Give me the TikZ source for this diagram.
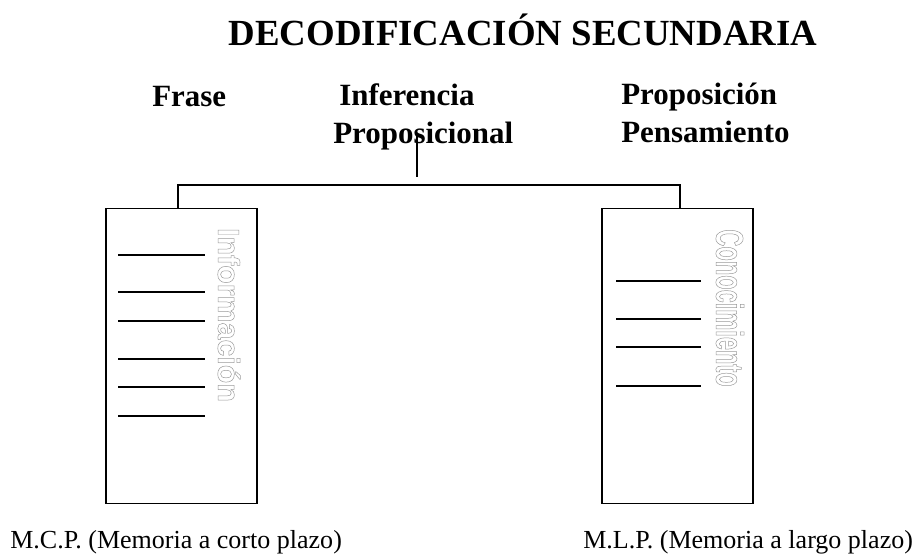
\documentclass[tikz,border=0pt]{standalone}
\usepackage{fontspec}
\setmainfont{Liberation Serif}[BoldFont={Liberation Serif Bold}]
\newfontfamily\infofont{Liberation Sans}
\newfontfamily\knowfont[FakeStretch=0.61]{Liberation Sans}
\usepackage{xcolor}
\usepackage{tikz}
\newcommand\hollow[1]{\special{pdf:literal direct 1 Tr 0.35 w}#1\special{pdf:literal direct 0 Tr 0.4 w}}

\begin{document}
\begin{tikzpicture}[x=0.025cm,y=-0.025cm,
  head/.style={font=\bfseries\fontsize{22}{26}\selectfont,anchor=base west,inner sep=0},
  foot/.style={font=\fontsize{18.5}{22}\selectfont,anchor=base west,inner sep=0},
  memory/.style={draw,line width=1.1pt,minimum width=3.775cm,minimum height=7.37cm,inner sep=0},
  hollowtext/.style={rotate=-90,text=black!40,inner sep=0}]
\useasboundingbox (0,0) rectangle (923,559);
\node[anchor=base,inner sep=0,font=\bfseries\fontsize{26.2}{30}\selectfont] (title) at (523,45) {DECODIFICACIÓN SECUNDARIA};
\node[head] (frase) at (152,106) {Frase};
\node[head] (infer) at (339,105) {Inferencia};
\node[head] (propos) at (333,143) {Proposicional};
\node[head] (prop) at (621,104) {Proposición};
\node[head] (pens) at (621,142) {Pensamiento};
\node[memory] (mcp) at (181.5,356) {};
\node[memory] (mlp) at (677.5,356) {};
\coordinate (stemtop) at (417,135);
\coordinate (stembot) at (417,177);
\coordinate (barL) at (178,185);
\coordinate (barR) at (680,185);
\draw[line width=0.8pt] (stemtop) -- (stembot);
\draw[line width=0.8pt] (barL |- mcp.north) -- (barL) -- (barR) -- (barR |- mlp.north);
\draw[line width=0.8pt] (118,255) -- (205,255);
\draw[line width=0.8pt] (118,292) -- (205,292);
\draw[line width=0.8pt] (118,321) -- (205,321);
\draw[line width=0.8pt] (118,359) -- (205,359);
\draw[line width=0.8pt] (118,387) -- (205,387);
\draw[line width=0.8pt] (118,416) -- (205,416);
\draw[line width=0.8pt] (616,281) -- (701,281);
\draw[line width=0.8pt] (616,319) -- (701,319);
\draw[line width=0.8pt] (616,347) -- (701,347);
\draw[line width=0.8pt] (616,386) -- (701,386);
\node[hollowtext,font=\infofont\bfseries\fontsize{21.6}{24}\selectfont] (info) at (229,315) {\hollow{Información}};
\node[hollowtext,font=\knowfont\bfseries\fontsize{27.5}{30}\selectfont] (know) at (730,308) {\hollow{Conocimiento}};
\node[foot] (mcplabel) at (10,548) {M.C.P. (Memoria a corto plazo)};
\node[foot] (mlplabel) at (583,548) {M.L.P. (Memoria a largo plazo)};
\end{tikzpicture}
\end{document}
